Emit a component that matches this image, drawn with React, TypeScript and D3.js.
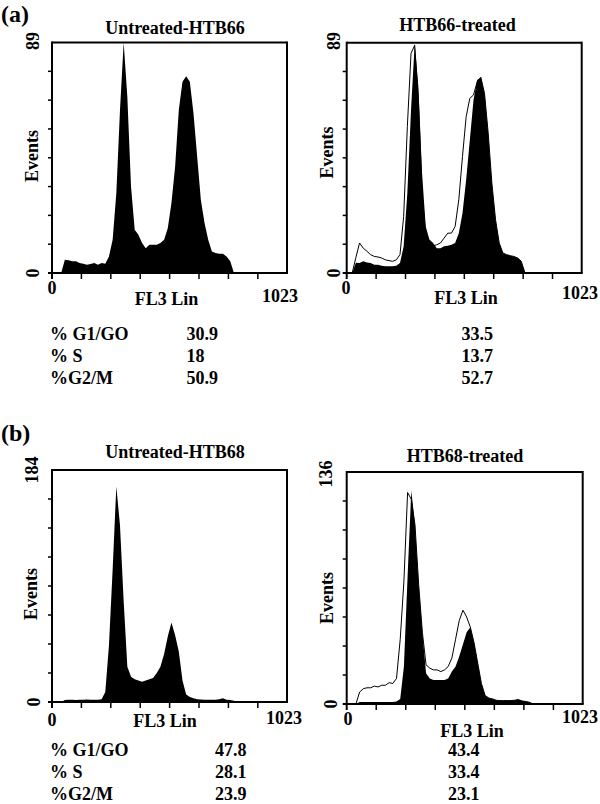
import React from "react";
import * as d3 from "d3";

// ---------- data ----------
const BIN_WIDTH = 16; // channels per bin
const CHANNEL_MAX = 1023;
const X_TICKS = [0, 128, 256, 384, 512, 640, 768, 896];
const X_TICK_LABELS = ["0", "1023"];
const X_AXIS_TITLE = "FL3 Lin";
const Y_AXIS_TITLE = "Events";

const htb66Untreated = [
  0, 0, 0, 5.1, 4.9, 4.5, 4.5, 3.9, 3.6, 3.2, 3.5, 3.9, 3.2, 3.9, 3.6,
  6.4, 12.8, 30.8, 62.9, 89, 68, 33.4, 16.7, 14.8, 11.6,
  9.6, 10.9, 10.9, 10.9, 11.6, 12.8, 17.3, 27, 41.1, 62.9,
  73.8, 76, 73.8, 61.6, 44.9, 28.2, 19.3, 12.8, 8.3, 7.7,
  7.4, 7.4, 6.4, 4.5,
  0, 0, 0, 0, 0, 0, 0, 0, 0, 0, 0, 0, 0, 0, 0,
];

const htb66Treated = [
  0, 0, 4, 3.9, 4.5, 4.1, 3.9, 3.2, 3.2, 2.8, 2.6, 2.6, 2.6, 2.8, 3.9,
  10.3, 30.9, 63, 88.7, 72, 38.6, 18, 12.9, 11.6, 9.6,
  9.6, 10.3, 10.5, 10.9, 11.6, 15.4, 23.1, 36, 51.4, 66.9,
  74.6, 75.6, 69.4, 54, 34.7, 20.6, 11.6, 7.7, 7.1, 6.7,
  6.4, 5.8, 4.5,
  0, 0, 0, 0, 0, 0, 0, 0, 0, 0, 0, 0, 0, 0, 0, 0,
];

const htb66TreatedOverlay = [
  0, 0, 6, 11.6, 9.6, 8.4, 7.1, 6.4, 6.2, 5.8, 5.1, 4.8, 4.5, 5.1, 7.1,
  21.9, 56.6, 84.9, 88, 66.9, 30.9, 14.8, 11.6, 10.5, 10.9,
  11.6, 13.5, 15.4, 15.4, 18, 28.3, 45, 60.4, 67.5, 68.8,
  73.9, 75.6, 69.4, 54, 34.7, 20.6, 11.6, 7.7, 7.1, 6.7,
  6.4, 5.8, 4.5,
  0, 0, 0, 0, 0, 0, 0, 0, 0, 0, 0, 0, 0, 0, 0, 0,
];

const htb68Untreated = [
  0, 0, 0, 1.5, 1.8, 1.8, 1.5, 1.8, 1.8, 2, 1.8, 1.8, 1.8, 2.2,
  8, 45, 105, 171, 140, 80, 28, 20, 18, 17,
  16, 17, 18, 19, 23, 28, 38, 52, 63, 53,
  40, 17, 6, 4, 3, 2.2, 2, 1.8, 1.8, 1.8,
  1.8, 2.2, 3, 1.8, 1.5, 1,
  0, 0, 0, 0, 0, 0, 0, 0, 0, 0, 0, 0, 0, 0,
];

const htb68Treated = [
  0, 0, 0, 1.2, 1.2, 1.2, 1.2, 1.2, 1.2, 1.2, 1.2, 1.2, 1.2, 1.5,
  3, 22, 75, 125, 105, 70, 42, 18, 15, 14,
  14, 14, 14, 15, 19, 22, 28, 35, 42, 45,
  36, 24, 12, 5, 3.5, 3, 2.2, 2, 2, 2,
  2, 2.2, 2.6, 1.8, 1.5, 1,
  0, 0, 0, 0, 0, 0, 0, 0, 0, 0, 0, 0, 0, 0,
];

const htb68TreatedOverlay = [
  0, 0, 0, 7, 9, 9.5, 9.5, 10.5, 10, 11, 11, 12.5, 12, 15,
  38, 72, 124, 120, 105, 70, 42, 23, 21, 20,
  20, 19, 20, 22, 27, 38, 49, 55, 51, 45,
  36, 24, 12, 5, 3.5, 3, 2.2, 2, 2, 2,
  2, 2.2, 2.6, 1.8, 1.5, 1,
  0, 0, 0, 0, 0, 0, 0, 0, 0, 0, 0, 0, 0, 0,
];

const statLabels = ["% G1/GO", "% S", "%G2/M"];
const htb66UntreatedStats = ["30.9", "18", "50.9"];
const htb66TreatedStats = ["33.5", "13.7", "52.7"];
const htb68UntreatedStats = ["47.8", "28.1", "23.9"];
const htb68TreatedStats = ["43.4", "33.4", "23.1"];

const panelTitles = ["Untreated-HTB66", "HTB66-treated", "Untreated-HTB68", "HTB68-treated"];
const yMaxValues = [89, 89, 184, 136];
const sectionLabels = ["(a)", "(b)"];

// ---------- layout ----------
const FONT = "'Liberation Serif', 'Times New Roman', serif";

type Pt = { x: number; y: number };
type PanelLayout = {
  box: { l: number; r: number; t: number; b: number };
  title: Pt;
  yMax: Pt;
  yZero: Pt;
  events: Pt;
  x0: Pt;
  fl3: Pt;
  x1023: Pt;
};

const layouts: PanelLayout[] = [
  {
    box: { l: 52, r: 287, t: 42.5, b: 273 },
    title: { x: 175, y: 34 },
    yMax: { x: 39, y: 41 },
    yZero: { x: 39, y: 273 },
    events: { x: 38, y: 156 },
    x0: { x: 52, y: 293.5 },
    fl3: { x: 166.5, y: 305 },
    x1023: { x: 280, y: 301.5 },
  },
  {
    box: { l: 346.7, r: 581.7, t: 42.7, b: 273 },
    title: { x: 457.5, y: 31 },
    yMax: { x: 340, y: 41 },
    yZero: { x: 340, y: 273 },
    events: { x: 333, y: 152.5 },
    x0: { x: 346, y: 294 },
    fl3: { x: 466, y: 304 },
    x1023: { x: 580, y: 299 },
  },
  {
    box: { l: 52, r: 287, t: 470, b: 702 },
    title: { x: 175, y: 458 },
    yMax: { x: 38, y: 470 },
    yZero: { x: 40, y: 702 },
    events: { x: 37, y: 594 },
    x0: { x: 52, y: 725.5 },
    fl3: { x: 165, y: 727 },
    x1023: { x: 284, y: 724 },
  },
  {
    box: { l: 346.7, r: 582.7, t: 472, b: 704 },
    title: { x: 465, y: 461.5 },
    yMax: { x: 332, y: 474 },
    yZero: { x: 337, y: 704 },
    events: { x: 333, y: 598 },
    x0: { x: 348, y: 725 },
    fl3: { x: 472, y: 737 },
    x1023: { x: 580, y: 723 },
  },
];

const panelData = [
  { fill: htb66Untreated, overlay: null as number[] | null },
  { fill: htb66Treated, overlay: htb66TreatedOverlay },
  { fill: htb68Untreated, overlay: null as number[] | null },
  { fill: htb68Treated, overlay: htb68TreatedOverlay },
];

const statBlocks = [
  { rows: [340, 362, 384], labelX: 50, colX: [186.5, 461.5], values: [htb66UntreatedStats, htb66TreatedStats] },
  { rows: [756, 778, 800], labelX: 50, colX: [215, 448], values: [htb68UntreatedStats, htb68TreatedStats] },
];

const sectionPos = [
  { x: 1, y: 22 },
  { x: 1, y: 441 },
];

const txt = {
  fontFamily: FONT,
  fontWeight: 700 as const,
  fontSize: 18,
  fill: "#000",
};

function Panel({ idx }: { idx: number }) {
  const L = layouts[idx];
  const { fill, overlay } = panelData[idx];
  const yMax = yMaxValues[idx];
  const x = d3.scaleLinear().domain([0, CHANNEL_MAX]).range([L.box.l, L.box.r]);
  const y = d3.scaleLinear().domain([0, yMax]).range([L.box.b, L.box.t]);
  const center = (i: number) => i * BIN_WIDTH + BIN_WIDTH / 2;

  const area = d3
    .area<number>()
    .x((_, i) => x(center(i)))
    .y0(L.box.b)
    .y1((d) => y(Math.min(d, yMax)))
    .curve(d3.curveLinear);
  const line = d3
    .line<number>()
    .x((_, i) => x(center(i)))
    .y((d) => y(Math.min(d, yMax)))
    .curve(d3.curveLinear);

  const yTicks = d3.range(1, 8).map((k) => (k * yMax) / 8);
  const clipId = `clip-${idx}`;

  const rot = (p: Pt, s: string, key: string) => (
    <text key={key} {...txt} textAnchor="middle" transform={`translate(${p.x},${p.y}) rotate(-90)`}>
      {s}
    </text>
  );

  return (
    <g>
      <defs>
        <clipPath id={clipId}>
          <rect x={L.box.l} y={L.box.t} width={L.box.r - L.box.l} height={L.box.b - L.box.t} />
        </clipPath>
      </defs>
      <g clipPath={`url(#${clipId})`}>
        <path d={area(fill) || ""} fill="#000" stroke="none" />
        {overlay && <path d={line(overlay) || ""} fill="none" stroke="#000" strokeWidth={1} />}
      </g>
      {/* frame */}
      <line x1={L.box.l} x2={L.box.r} y1={L.box.t} y2={L.box.t} stroke="#000" strokeWidth={2} />
      <line x1={L.box.r} x2={L.box.r} y1={L.box.t - 1} y2={L.box.b} stroke="#000" strokeWidth={2} />
      <line x1={L.box.l - 4} x2={L.box.r + 1} y1={L.box.b} y2={L.box.b} stroke="#000" strokeWidth={2} />
      <line x1={L.box.l} x2={L.box.l} y1={L.box.t - 1} y2={L.box.b} stroke="#000" strokeWidth={2} />
      {yTicks.map((t, i) => (
        <line key={`yt${i}`} x1={L.box.l - 4} x2={L.box.l} y1={y(t)} y2={y(t)} stroke="#000" strokeWidth={1.5} />
      ))}
      {X_TICKS.map((t, i) => (
        <line key={`xt${i}`} x1={x(t)} x2={x(t)} y1={L.box.b} y2={L.box.b + 6} stroke="#000" strokeWidth={i === 0 ? 2 : 1.5} />
      ))}
      {/* labels */}
      <text {...txt} textAnchor="middle" x={L.title.x} y={L.title.y}>
        {panelTitles[idx]}
      </text>
      {rot(L.yMax, String(yMax), "ymax")}
      {rot(L.yZero, "0", "yzero")}
      {rot(L.events, Y_AXIS_TITLE, "events")}
      <text {...txt} textAnchor="middle" x={L.x0.x} y={L.x0.y}>
        {X_TICK_LABELS[0]}
      </text>
      <text {...txt} textAnchor="middle" x={L.fl3.x} y={L.fl3.y}>
        {X_AXIS_TITLE}
      </text>
      <text {...txt} textAnchor="middle" x={L.x1023.x} y={L.x1023.y}>
        {X_TICK_LABELS[1]}
      </text>
    </g>
  );
}

export default function App() {
  return (
    <svg
      width={600}
      height={804}
      viewBox="0 0 600 804"
      style={{ position: "absolute", left: 0, top: 0, background: "#fff" }}
    >
      <rect x={0} y={0} width={600} height={804} fill="#fff" />
      {sectionLabels.map((s, i) => (
        <text key={s} {...txt} fontSize={24} x={sectionPos[i].x} y={sectionPos[i].y}>
          {s}
        </text>
      ))}
      {[0, 1, 2, 3].map((i) => (
        <Panel key={i} idx={i} />
      ))}
      {statBlocks.map((blk, bi) => (
        <g key={`stats${bi}`}>
          {statLabels.map((lab, r) => (
            <g key={lab}>
              <text {...txt} x={blk.labelX} y={blk.rows[r]}>
                {lab}
              </text>
              {blk.values.map((col, c) => (
                <text key={c} {...txt} x={blk.colX[c]} y={blk.rows[r]}>
                  {col[r]}
                </text>
              ))}
            </g>
          ))}
        </g>
      ))}
    </svg>
  );
}
